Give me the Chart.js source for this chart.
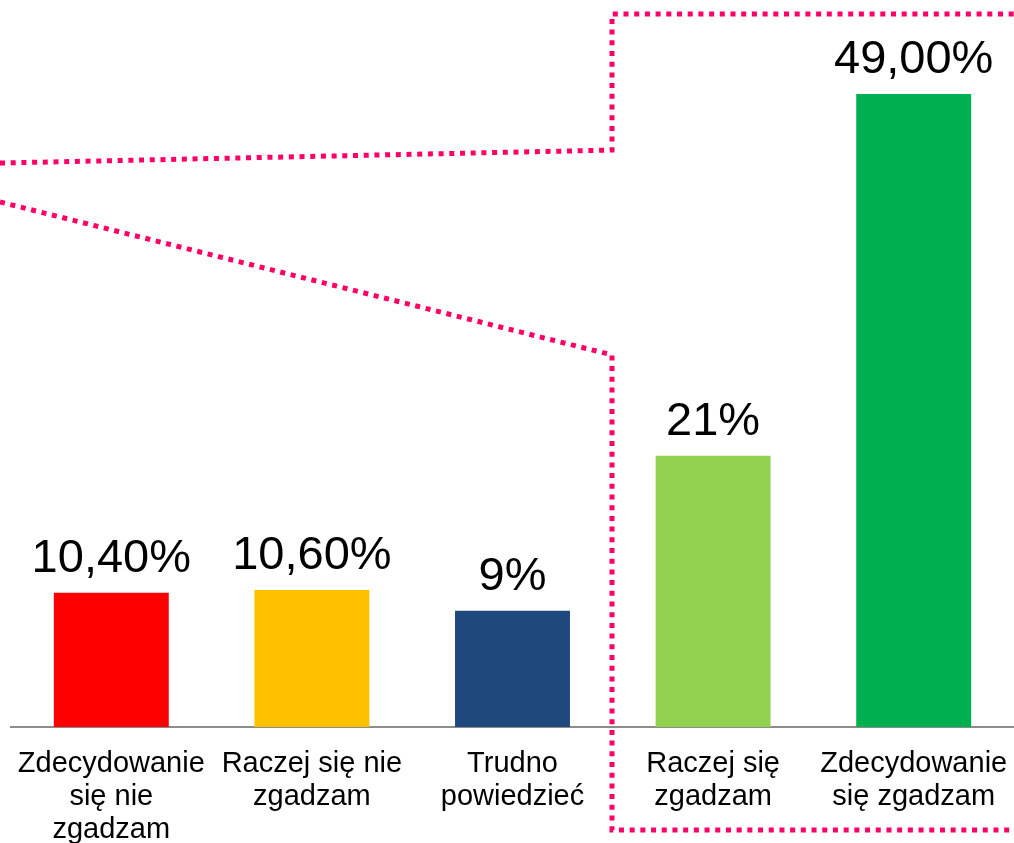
<!DOCTYPE html>
<html>
<head>
<meta charset="utf-8">
<script src="https://cdn.jsdelivr.net/npm/chart.js@4/dist/chart.umd.min.js"></script>
<style>
  html, body { margin: 0; padding: 0; background: #ffffff; }
  #wrap { width: 1014px; height: 843px; position: relative; }
</style>
</head>
<body>
<div id="wrap"><canvas id="c" width="1014" height="843"></canvas></div>
<script>
// ---- data ----
const categories = [
  ['Zdecydowanie', 'się nie', 'zgadzam'],
  ['Raczej się nie', 'zgadzam'],
  ['Trudno', 'powiedzieć'],
  ['Raczej się', 'zgadzam'],
  ['Zdecydowanie', 'się zgadzam']
];
const values = [10.4, 10.6, 9, 21, 49];
const valueLabels = ['10,40%', '10,60%', '9%', '21%', '49,00%'];
const barColors = ['#FF0000', '#FFC000', '#1F497D', '#92D050', '#00B050'];

// ---- style ----
const FONT = '"Liberation Sans", Arial, sans-serif';
const PINK = '#FF0066';

const valueLabelPlugin = {
  id: 'valueLabels',
  afterDatasetsDraw(chart) {
    const ctx = chart.ctx;
    const meta = chart.getDatasetMeta(0);
    ctx.save();
    ctx.fillStyle = '#000000';
    ctx.font = '47px ' + FONT;
    ctx.textAlign = 'center';
    ctx.textBaseline = 'alphabetic';
    meta.data.forEach((bar, i) => {
      ctx.fillText(valueLabels[i], bar.x, bar.y - 21);
    });
    ctx.restore();
  }
};

// dotted callout frame (decoration), anchored to the category boundary between bars 3 and 4
const calloutPlugin = {
  id: 'callout',
  afterDraw(chart) {
    const ctx = chart.ctx;
    const xs = chart.scales.x;
    const W = chart.width, H = chart.height;
    const xv = Math.round((xs.getPixelForTick(2) + xs.getPixelForTick(3)) / 2) - 1;
    const topY = H * 0.0166, upLeft = H * 0.1934, upJoin = H * 0.178;
    const lowLeft = H * 0.2396, lowJoin = H * 0.421, botY = H * 0.9845;
    ctx.save();
    ctx.strokeStyle = PINK;
    ctx.lineWidth = 5;
    ctx.setLineDash([5, 5.7]);
    ctx.lineCap = 'butt';
    ctx.beginPath();
    ctx.moveTo(0, upLeft);
    ctx.lineTo(xv, upJoin);
    ctx.lineTo(xv, topY);
    ctx.lineTo(W, topY);
    ctx.stroke();
    ctx.beginPath();
    ctx.moveTo(0, lowLeft);
    ctx.lineTo(xv, lowJoin);
    ctx.lineTo(xv, botY);
    ctx.lineTo(W, botY);
    ctx.stroke();
    ctx.restore();
  }
};

new Chart(document.getElementById('c'), {
  type: 'bar',
  data: {
    labels: categories,
    datasets: [{
      data: values,
      backgroundColor: barColors,
      borderWidth: 0,
      barPercentage: 0.573,
      categoryPercentage: 1
    }]
  },
  options: {
    responsive: false,
    animation: false,
    devicePixelRatio: 1,
    layout: { padding: { left: 11, right: 0, top: 0, bottom: 0 } },
    plugins: { legend: { display: false }, tooltip: { enabled: false } },
    scales: {
      x: {
        grid: { display: false, drawTicks: false },
        border: { display: true, color: '#8C8C8C', width: 2 },
        ticks: {
          color: '#000000',
          font: { family: FONT, size: 29, lineHeight: 1.15 },
          padding: 20,
          maxRotation: 0,
          minRotation: 0,
          autoSkip: false
        },
        afterFit(scale) {
          scale.height = 116;
          scale.paddingLeft = 0;
          scale.paddingRight = 0;
        }
      },
      y: {
        display: false,
        min: 0,
        max: 56.28
      }
    }
  },
  plugins: [valueLabelPlugin, calloutPlugin]
});
</script>
</body>
</html>
